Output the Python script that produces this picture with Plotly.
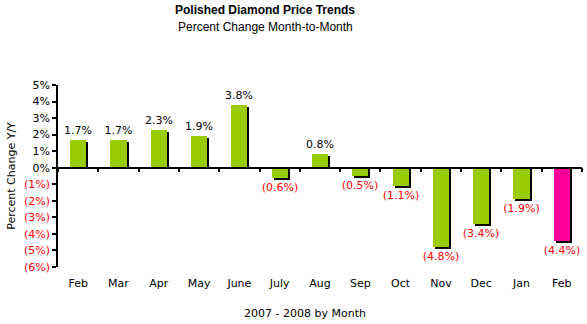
import plotly.graph_objects as go

months = ["Feb", "Mar", "Apr", "May", "June", "July", "Aug", "Sep", "Oct", "Nov", "Dec", "Jan", "Feb"]
changes = [1.7, 1.7, 2.3, 1.9, 3.8, -0.6, 0.8, -0.5, -1.1, -4.8, -3.4, -1.9, -4.4]
ytick_vals = [5, 4, 3, 2, 1, 0, -1, -2, -3, -4, -5, -6]
ytick_text = ["5%", "4%", "3%", "2%", "1%", "0%", "(1%)", "(2%)", "(3%)", "(4%)", "(5%)", "(6%)"]

GREEN = "#99CC00"
PINK = "#FF0099"
RED = "#FF0000"
FONT = "DejaVu Sans"

x = list(range(len(months)))
colors = [GREEN] * (len(months) - 1) + [PINK]
labels = [f"{v:.1f}%" if v >= 0 else f"({abs(v):.1f}%)" for v in changes]
label_colors = ["black" if v >= 0 else RED for v in changes]

W, H = 587, 324
ml, mr, mt, mb = 58, 5, 85, 57
yr = [-6, 5]
px_per_unit = (H - mt - mb) / (yr[1] - yr[0])
px_per_cat = (W - ml - mr) / len(months)
shift_y = 2 / px_per_unit
shift_x = 2 / px_per_cat
bw = 0.4

fig = go.Figure()
fig.add_trace(go.Bar(
    x=x, y=[v - shift_y if v >= 0 else v - shift_y for v in changes],
    width=bw, offset=-bw / 2 + shift_x, marker=dict(color="black", line=dict(width=0)),
    hoverinfo="skip", showlegend=False,
))
fig.add_trace(go.Bar(
    x=x, y=changes, width=bw, offset=-bw / 2,
    marker=dict(color=colors, line=dict(width=0)),
    text=labels, textposition="outside", cliponaxis=False, constraintext="none",
    textfont=dict(family=FONT, size=11, color=label_colors),
    showlegend=False,
))
# zero axis line with category boundary ticks
fig.add_trace(go.Scatter(x=[0], y=[0], xaxis="x2", mode="markers", marker=dict(opacity=0), showlegend=False, hoverinfo="skip"))

fig.update_layout(
    width=W, height=H, margin=dict(l=ml, r=mr, t=mt, b=mb),
    plot_bgcolor="white", paper_bgcolor="white",
    barmode="overlay", bargap=0,
    font=dict(family=FONT, size=11, color="black"),
    xaxis=dict(range=[-0.5, len(months) - 0.5], tickvals=x, ticktext=months,
               showline=False, showgrid=False, zeroline=False, ticks="",
               ticklabelstandoff=8, tickfont=dict(family=FONT, size=11)),
    xaxis2=dict(range=[-0.5, len(months) - 0.5], overlaying="x", anchor="free",
                position=(0 - yr[0]) / (yr[1] - yr[0]), side="bottom",
                showline=True, linecolor="black", linewidth=1.5,
                ticks="outside", ticklen=4, tickwidth=1.5, tickcolor="black",
                tickvals=[i - 0.5 for i in range(len(months) + 1)],
                showticklabels=False, showgrid=False, zeroline=False),
    yaxis=dict(range=yr, tickvals=ytick_vals, ticktext=ytick_text,
               showline=True, linecolor="black", linewidth=1.5,
               ticks="outside", ticklen=4, tickwidth=1.5, tickcolor="black",
               showgrid=False, zeroline=False,
               title=dict(text="Percent Change Y/Y", font=dict(family=FONT, size=11), standoff=6),
               tickfont=dict(family=FONT, size=11)),
    title=dict(text="<b>Polished Diamond Price Trends</b>", x=265 / W, xanchor="center",
               y=1 - 10 / H, yanchor="middle",
               font=dict(family="Liberation Sans", size=12, color="black")),
    annotations=[
        dict(text="Percent Change Month-to-Month", xref="paper", yref="paper",
             x=(265 - ml) / (W - ml - mr), y=1 + (mt - 27) / (H - mt - mb),
             xanchor="center", yanchor="middle", showarrow=False,
             font=dict(family="Liberation Sans", size=12, color="black")),
        dict(text="2007 - 2008 by Month", xref="paper", yref="paper",
             x=(305 - ml) / (W - ml - mr), y=-(313 - (H - mb)) / (H - mt - mb),
             xanchor="center", yanchor="middle", showarrow=False,
             font=dict(family=FONT, size=11, color="black")),
    ],
)

# color negative y tick labels red via separate tick text styling
fig.update_yaxes(ticktext=[t if v >= 0 else f"<span style='color:{RED}'>{t}</span>" for t, v in zip(ytick_text, ytick_vals)])

fig.write_html("out.html")
